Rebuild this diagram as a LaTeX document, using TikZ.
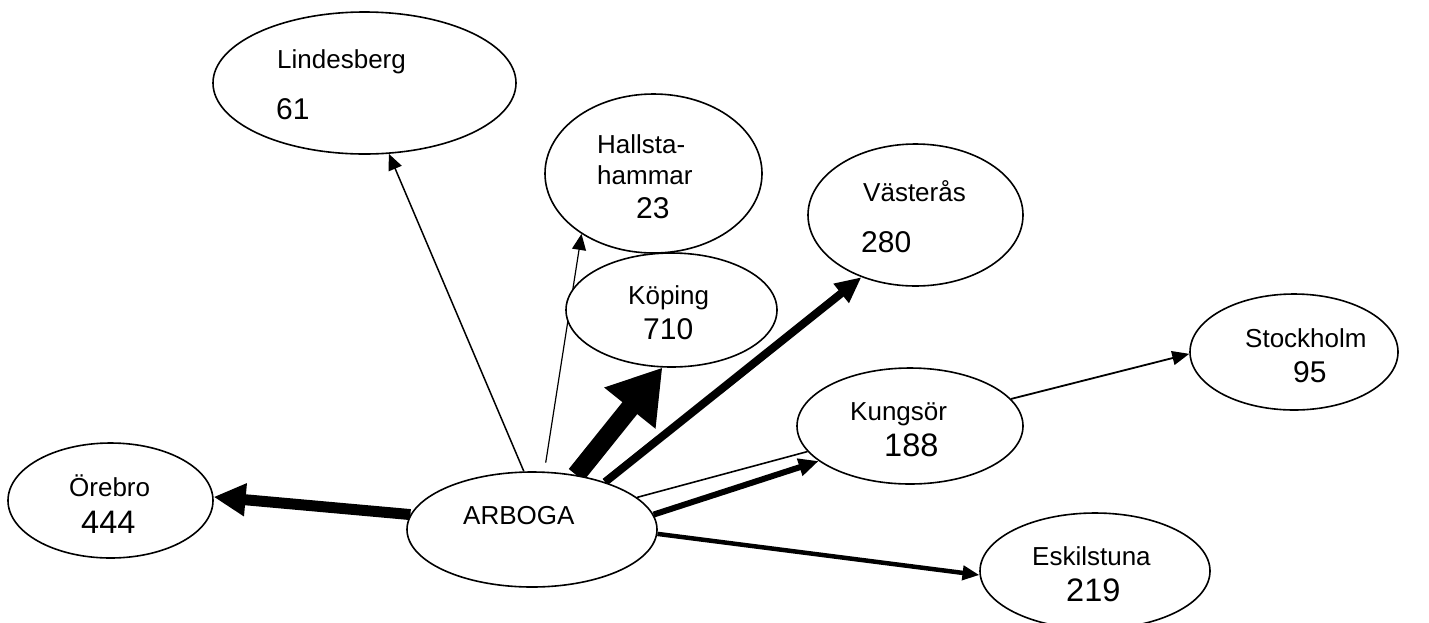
\documentclass[tikz,border=0pt]{standalone}
\usepackage{fontspec}
\setmainfont{Liberation Sans}
\usetikzlibrary{shapes.geometric,arrows.meta}
\pgfdeclarelayer{bg}
\pgfsetlayers{bg,main}
\begin{document}
\begin{tikzpicture}[x=1pt,y=-1pt,
  city/.style={ellipse,draw,fill=white,line width=1.6pt,inner sep=0pt},
  lbl/.style={anchor=base west,inner sep=0pt,font=\fontsize{26}{30}\selectfont},
  num/.style={anchor=base west,inner sep=0pt,font=\fontsize{30}{34}\selectfont},
  bignum/.style={anchor=base west,inner sep=0pt,font=\fontsize{32.5}{36}\selectfont},
  flow/.style={line cap=butt,line join=miter}
]
\useasboundingbox (0,0) rectangle (1429,622);

\node[city,minimum width=303pt,minimum height=142pt] (lind) at (364.5,83) {};
\node[city,minimum width=217pt,minimum height=159pt] (hall) at (653.5,173.5) {};
\node[city,minimum width=211pt,minimum height=114pt] (kop) at (671.5,310) {};
\node[city,minimum width=215pt,minimum height=142pt] (vas) at (915.5,215) {};
\node[city,minimum width=208pt,minimum height=116pt] (sto) at (1294,352) {};
\node[city,minimum width=226pt,minimum height=116pt] (kun) at (910,426) {};
\node[city,minimum width=205pt,minimum height=115pt] (ore) at (110.5,500.5) {};
\node[city,minimum width=250pt,minimum height=115pt] (arb) at (532,529.5) {};
\node[city,minimum width=230pt,minimum height=116pt] (esk) at (1095,571) {};

\node[lbl] (tlind) at (277,68) {Lindesberg};
\node[num] (nlind) at (276,119) {61};
\node[lbl] (thall1) at (597,153) {Hallsta-};
\node[lbl] (thall2) at (597,184) {hammar};
\node[num] (nhall) at (636,218) {23};
\node[lbl] (tkop) at (628,304) {Köping};
\node[num] (nkop) at (643,339) {710};
\node[lbl] (tvas) at (863,201) {Västerås};
\node[num] (nvas) at (861,252) {280};
\node[lbl] (tsto) at (1245,347) {Stockholm};
\node[num] (nsto) at (1293,382) {95};
\node[lbl] (tkun) at (850,420) {Kungsör};
\node[bignum] (nkun) at (884,456) {188};
\node[lbl] (tore) at (69,496) {Örebro};
\node[bignum] (nore) at (81,533) {444};
\node[lbl] (tarb) at (463,524) {ARBOGA};
\node[lbl] (tesk) at (1032,565) {Eskilstuna};
\node[bignum] (nesk) at (1066,601) {219};

\begin{pgfonlayer}{bg}
\draw[flow,line width=11pt,-{Triangle[length=32pt,width=31pt]}] (arb.173.4) -- (ore.2);
\draw[flow,line width=1.5pt,-{Triangle[length=16pt,width=14pt]}] (arb.98.7) -- (lind.-71.7);
\draw[flow,line width=1.2pt,shorten <=9pt,-{Triangle[length=16pt,width=14pt]}] (arb.78) -- (hall.220.7);
\draw[flow,line width=19pt,-{Triangle[length=52pt,width=62pt]}] (arb.51.7) -- (kop.-99.3);
\draw[flow,line width=8pt,-{Triangle[length=26pt,width=23pt]}] (arb.33.4) -- (vas.229.2);
\draw[flow,line width=1.6pt] (arb.17.7) -- (kun.194.3);
\draw[flow,line width=6pt,-{Triangle[length=20pt,width=17pt]}] (arb.7.5) -- (kun.201);
\draw[flow,line width=1.8pt,-{Triangle[length=17pt,width=14pt]}] (kun.15.4) -- (sto.181.1);
\draw[flow,line width=4.5pt,-{Triangle[length=17pt,width=14pt]}] (arb.-2.5) -- (esk.182);
\end{pgfonlayer}
\end{tikzpicture}
\end{document}
